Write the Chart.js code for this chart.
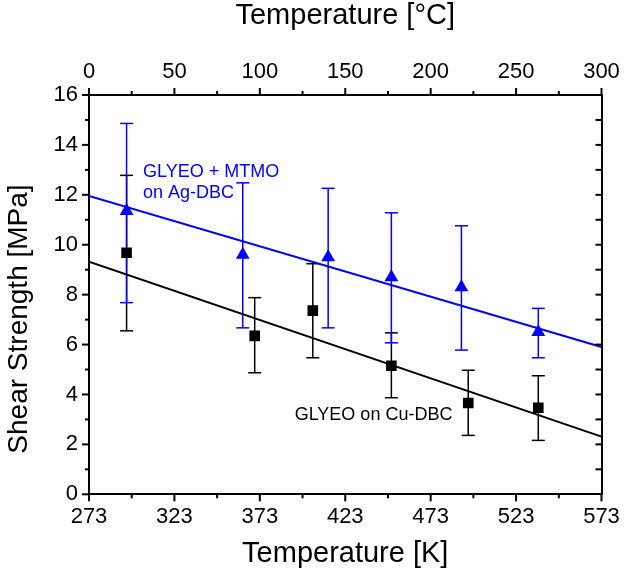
<!DOCTYPE html>
<html><head><meta charset="utf-8">
<script src="https://cdn.jsdelivr.net/npm/chart.js@4.4.1/dist/chart.umd.min.js"></script>
<style>html,body{margin:0;padding:0;background:#fff;}canvas{display:block;}</style>
</head><body>
<canvas id="c" width="624" height="573"></canvas>
<script>
const FONT = "'Liberation Sans', Arial, Helvetica, sans-serif";

// ---- data ----
const agTempK    = [295, 363, 413, 450, 491, 536];
const agStrength = [11.35, 9.6, 9.5, 8.7, 8.3, 6.5];
const agLow      = [7.68, 6.67, 6.67, 6.07, 5.78, 5.47];
const agHigh     = [14.86, 12.48, 12.26, 11.28, 10.76, 7.45];

const cuTempK    = [295, 370, 404, 450, 495, 536];
const cuStrength = [9.68, 6.35, 7.36, 5.15, 3.66, 3.47];
const cuLow      = [6.55, 4.87, 5.47, 3.87, 2.36, 2.16];
const cuHigh     = [12.78, 7.88, 9.24, 6.47, 4.97, 4.75];

const fitTempK = [273, 573];
const agFit    = [11.95, 5.9];
const cuFit    = [9.32, 2.31];

const kelvinTicks   = [273, 323, 373, 423, 473, 523, 573];
const kelvinMinor   = [298, 348, 398, 448, 498, 548];
const celsiusTicks  = [0, 50, 100, 150, 200, 250, 300];
const celsiusMinor  = [25, 75, 125, 175, 225, 275];
const strengthTicks = [0, 2, 4, 6, 8, 10, 12, 14, 16];
const strengthMinor = [1, 3, 5, 7, 9, 11, 13, 15];
const rightTicks    = [1, 2, 3, 4, 5, 6, 7, 8, 9, 10, 11, 12, 13, 14, 15];

const agLabel = ['GLYEO + MTMO', 'on Ag-DBC'];
const cuLabel = 'GLYEO on Cu-DBC';
const yTitle = 'Shear Strength [MPa]';

const BLUE = '#0000ff', BLACK = '#000000';

function pts(xs, ys) { return xs.map((x, i) => ({x: x, y: ys[i]})); }
function seg(ctx, x1, y1, x2, y2) { ctx.beginPath(); ctx.moveTo(x1, y1); ctx.lineTo(x2, y2); ctx.stroke(); }

const decor = {
  id: 'decor',
  beforeDatasetsDraw(chart) {
    const ctx = chart.ctx, xs = chart.scales.x, ys = chart.scales.y;
    const groups = [[cuTempK, cuLow, cuHigh, BLACK], [agTempK, agLow, agHigh, BLUE]];
    ctx.save();
    ctx.lineWidth = 1.5;
    for (const [t, lo, hi, col] of groups) {
      ctx.strokeStyle = col;
      t.forEach((k, i) => {
        const px = xs.getPixelForValue(k);
        const p1 = ys.getPixelForValue(lo[i]);
        const p2 = ys.getPixelForValue(hi[i]);
        seg(ctx, px, p1, px, p2);
        seg(ctx, px - 6.5, p1, px + 6.5, p1);
        seg(ctx, px - 6.5, p2, px + 6.5, p2);
      });
    }
    ctx.restore();
  },
  afterDraw(chart) {
    const ctx = chart.ctx, a = chart.chartArea;
    const xs = chart.scales.x, x2 = chart.scales.x2, ys = chart.scales.y, y2 = chart.scales.y2;
    ctx.save();
    ctx.strokeStyle = BLACK;
    ctx.lineWidth = 2;
    ctx.lineCap = 'butt';
    kelvinTicks.forEach(v => { const p = xs.getPixelForValue(v); seg(ctx, p, a.bottom, p, a.bottom + 7); });
    kelvinMinor.forEach(v => { const p = xs.getPixelForValue(v); seg(ctx, p, a.bottom, p, a.bottom + 4); });
    celsiusTicks.forEach(v => { const p = x2.getPixelForValue(v); seg(ctx, p, a.top, p, a.top - 7); });
    celsiusMinor.forEach(v => { const p = x2.getPixelForValue(v); seg(ctx, p, a.top, p, a.top - 4); });
    strengthTicks.forEach(v => { const p = ys.getPixelForValue(v); seg(ctx, a.left, p, a.left - 7, p); });
    strengthMinor.forEach(v => { const p = ys.getPixelForValue(v); seg(ctx, a.left, p, a.left - 4, p); });
    rightTicks.forEach(v => { const p = y2.getPixelForValue(v); seg(ctx, a.right, p, a.right - 6, p); });

    // series labels
    ctx.font = '18px ' + FONT;
    ctx.textAlign = 'left';
    ctx.textBaseline = 'alphabetic';
    ctx.fillStyle = BLUE;
    ctx.fillText(agLabel[0], xs.getPixelForValue(304.6), ys.getPixelForValue(12.72));
    ctx.fillText(agLabel[1], xs.getPixelForValue(304.6), ys.getPixelForValue(11.86));
    ctx.fillStyle = BLACK;
    ctx.fillText(cuLabel, xs.getPixelForValue(393.4), ys.getPixelForValue(2.98));

    // y axis title
    ctx.translate(26.5, 319);
    ctx.rotate(-Math.PI / 2);
    ctx.font = '28px ' + FONT;
    ctx.textAlign = 'center';
    ctx.textBaseline = 'alphabetic';
    ctx.fillText(yTitle, 0, 0);
    ctx.restore();
  }
};

const tickFont = {family: FONT, size: 22};
const titleFont = {family: FONT, size: 29, lineHeight: 1};

function fixH(h) { return s => { s.height = h; s.paddingLeft = 0; s.paddingRight = 0; }; }
function fixW(w) { return s => { s.width = w; s.paddingTop = 0; s.paddingBottom = 0; }; }

new Chart(document.getElementById('c'), {
  type: 'scatter',
  data: {
    datasets: [
      {label: 'GLYEO + MTMO on Ag-DBC', data: pts(agTempK, agStrength), pointStyle: 'triangle',
       pointRadius: 8, backgroundColor: BLUE, borderColor: BLUE, borderWidth: 0, order: 0},
      {label: 'GLYEO on Cu-DBC', data: pts(cuTempK, cuStrength), pointStyle: 'rect',
       pointRadius: 7.5, backgroundColor: BLACK, borderColor: BLACK, borderWidth: 0, order: 1},
      {label: 'Ag fit', data: pts(fitTempK, agFit), showLine: true, pointRadius: 0,
       borderColor: BLUE, borderWidth: 2, order: 2},
      {label: 'Cu fit', data: pts(fitTempK, cuFit), showLine: true, pointRadius: 0,
       borderColor: BLACK, borderWidth: 2, order: 3}
    ]
  },
  options: {
    responsive: false,
    animation: false,
    devicePixelRatio: 1,
    layout: {padding: 0, autoPadding: false},
    plugins: {legend: {display: false}, tooltip: {enabled: false}},
    scales: {
      x: {
        type: 'linear', position: 'bottom', min: 273, max: 573,
        afterBuildTicks: s => { s.ticks = kelvinTicks.map(v => ({value: v})); },
        afterFit: fixH(78.7),
        grid: {display: false, drawTicks: false},
        border: {display: true, color: BLACK, width: 2},
        ticks: {font: tickFont, color: BLACK, padding: 9, maxRotation: 0, autoSkip: false},
        title: {display: true, text: 'Temperature [K]', font: titleFont, color: BLACK, padding: {top: 0, bottom: 5}}
      },
      x2: {
        type: 'linear', position: 'top', min: 0, max: 300,
        afterBuildTicks: s => { s.ticks = celsiusTicks.map(v => ({value: v})); },
        afterFit: fixH(95),
        grid: {display: false, drawTicks: false},
        border: {display: true, color: BLACK, width: 2},
        ticks: {font: tickFont, color: BLACK, padding: 10, maxRotation: 0, autoSkip: false},
        title: {display: true, text: 'Temperature [°C]', font: titleFont, color: BLACK, padding: {top: 1, bottom: 0}}
      },
      y: {
        type: 'linear', position: 'left', min: 0, max: 16,
        afterBuildTicks: s => { s.ticks = strengthTicks.map(v => ({value: v})); },
        afterFit: fixW(89),
        grid: {display: false, drawTicks: false},
        border: {display: true, color: BLACK, width: 2},
        ticks: {font: tickFont, color: BLACK, padding: 11, autoSkip: false}
      },
      y2: {
        type: 'linear', position: 'right', min: 0, max: 16,
        afterFit: fixW(22.5),
        grid: {display: false, drawTicks: false},
        border: {display: true, color: BLACK, width: 2},
        ticks: {display: false}
      }
    }
  },
  plugins: [decor]
});
</script>
</body></html>
